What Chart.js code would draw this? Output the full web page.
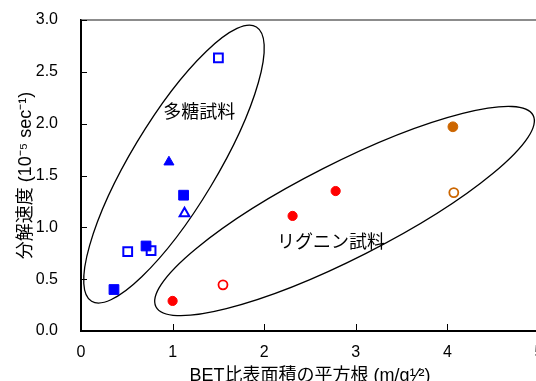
<!DOCTYPE html>
<html>
<head>
<meta charset="utf-8">
<script src="https://cdn.jsdelivr.net/npm/chart.js@4/dist/chart.umd.min.js"></script>
<style>
html, body { margin: 0; padding: 0; overflow: hidden; background: #fff; }
</style>
</head>
<body>
<canvas id="rateChart" width="560" height="400"></canvas>
<script>
// sqrt of BET surface area (x) vs decomposition rate (y)
const sugarSquareFilled = [[0.36, 0.40], [0.71, 0.82], [1.12, 1.31]];
const sugarSquareOpen = [[0.51, 0.765], [0.765, 0.775], [1.50, 2.635]];
const sugarTriangleFilled = [[0.96, 1.63]];
const sugarTriangleOpen = [[1.13, 1.135]];
const ligninRedFilled = [[1.00, 0.29], [2.31, 1.11], [2.78, 1.35]];
const ligninRedOpen = [[1.55, 0.445]];
const ligninOrangeFilled = [[4.06, 1.97]];
const ligninOrangeOpen = [[4.07, 1.335]];

const xTicks = [0, 1, 2, 3, 4, 5];
const yTicks = [0, 0.5, 1.0, 1.5, 2.0, 2.5, 3.0];

const groupNames = ["多糖試料", "リグニン試料"];

const FONT = "'Liberation Sans', Arial, 'Noto Sans CJK JP', sans-serif";
const BLUE = "#0000ff", RED = "#ff0000", ORANGE = "#cc6600";

const toPts = arr => arr.map(p => ({ x: p[0], y: p[1] }));

// ellipses around the two sample groups (centre in data units, radii in px)
const outlines = [
  { cx: 1.015, cy: 1.61, rx: 160, ry: 43, tilt: -59 },
  { cx: 2.877, cy: 1.157, rx: 211.5, ry: 47.5, tilt: -26.9 }
];
const namePos = [[1.29, 2.10], [2.73, 0.85]];

const decor = {
  id: "decor",
  beforeDatasetsDraw(chart) {
    const { ctx, chartArea: a, scales: { x, y } } = chart;
    ctx.save();
    // top frame line
    ctx.strokeStyle = "#666";
    ctx.lineWidth = 1.5;
    ctx.beginPath();
    ctx.moveTo(a.left, a.top);
    ctx.lineTo(a.right, a.top);
    ctx.stroke();
    // inward tick marks
    ctx.strokeStyle = "#000";
    ctx.lineWidth = 1;
    ctx.beginPath();
    y.ticks.forEach(t => {
      const p = Math.round(y.getPixelForValue(t.value)) + 0.5;
      ctx.moveTo(a.left, p);
      ctx.lineTo(a.left + 6, p);
    });
    x.ticks.forEach(t => {
      const p = Math.round(x.getPixelForValue(t.value)) + 0.5;
      ctx.moveTo(p, a.bottom);
      ctx.lineTo(p, a.bottom - 7);
    });
    ctx.stroke();
    // group ellipses
    ctx.lineWidth = 1.3;
    outlines.forEach(o => {
      ctx.beginPath();
      ctx.ellipse(x.getPixelForValue(o.cx), y.getPixelForValue(o.cy), o.rx, o.ry,
        o.tilt * Math.PI / 180, 0, Math.PI * 2);
      ctx.stroke();
    });
    // group names
    ctx.fillStyle = "#000";
    ctx.font = "18px " + FONT;
    ctx.textAlign = "center";
    ctx.textBaseline = "middle";
    groupNames.forEach((n, i) => {
      ctx.fillText(n, x.getPixelForValue(namePos[i][0]), y.getPixelForValue(namePos[i][1]));
    });
    ctx.restore();
  }
};

new Chart(document.getElementById("rateChart"), {
  type: "scatter",
  data: {
    datasets: [
      { data: toPts(sugarSquareFilled), pointStyle: "rect", pointRadius: 6.9,
        backgroundColor: BLUE, borderColor: BLUE, borderWidth: 1 },
      { data: toPts(sugarSquareOpen), pointStyle: "rect", pointRadius: 6.2,
        backgroundColor: "#fff", borderColor: BLUE, borderWidth: 2 },
      { data: toPts(sugarTriangleFilled), pointStyle: "triangle", pointRadius: 5.8,
        backgroundColor: BLUE, borderColor: BLUE, borderWidth: 1 },
      { data: toPts(sugarTriangleOpen), pointStyle: "triangle", pointRadius: 5.6,
        backgroundColor: "#fff", borderColor: BLUE, borderWidth: 2 },
      { data: toPts(ligninRedFilled), pointStyle: "circle", pointRadius: 4.6,
        backgroundColor: RED, borderColor: RED, borderWidth: 1 },
      { data: toPts(ligninRedOpen), pointStyle: "circle", pointRadius: 4.5,
        backgroundColor: "#fff", borderColor: RED, borderWidth: 1.8 },
      { data: toPts(ligninOrangeFilled), pointStyle: "circle", pointRadius: 4.9,
        backgroundColor: ORANGE, borderColor: ORANGE, borderWidth: 1 },
      { data: toPts(ligninOrangeOpen), pointStyle: "circle", pointRadius: 4.5,
        backgroundColor: "#fff", borderColor: ORANGE, borderWidth: 1.8 }
    ]
  },
  options: {
    responsive: false,
    devicePixelRatio: 1,
    animation: false,
    events: [],
    layout: { padding: { top: 20, right: 21, left: 0, bottom: 0 } },
    plugins: { legend: { display: false }, tooltip: { enabled: false } },
    scales: {
      x: {
        type: "linear",
        min: xTicks[0], max: xTicks[xTicks.length - 1],
        afterBuildTicks: s => { s.ticks = xTicks.map(v => ({ value: v })); },
        afterFit: s => { s.height = 69; s.paddingLeft = 0; s.paddingRight = 0; },
        border: { color: "#000", width: 2 },
        grid: { drawOnChartArea: false, drawTicks: false },
        ticks: { color: "#000", padding: 12, font: { family: FONT, size: 16 } },
        title: { display: true, text: "BET比表面積の平方根 (m/g¹⁄²)", color: "#000",
          padding: { top: 0, bottom: 13 }, font: { family: FONT, size: 18 } }
      },
      y: {
        type: "linear",
        min: yTicks[0], max: yTicks[yTicks.length - 1],
        afterBuildTicks: s => { s.ticks = yTicks.map(v => ({ value: v })); },
        afterFit: s => { s.width = 81; s.paddingTop = 0; s.paddingBottom = 0; },
        border: { color: "#000", width: 2 },
        grid: { drawOnChartArea: false, drawTicks: false },
        ticks: { color: "#000", padding: 23, font: { family: FONT, size: 16 },
          callback: v => v.toFixed(1) },
        title: { display: true, text: "分解速度 (10⁻⁵ sec⁻¹)", color: "#000",
          padding: { top: 15, bottom: 0 }, font: { family: FONT, size: 18 } }
      }
    }
  },
  plugins: [decor]
});
</script>
</body>
</html>
